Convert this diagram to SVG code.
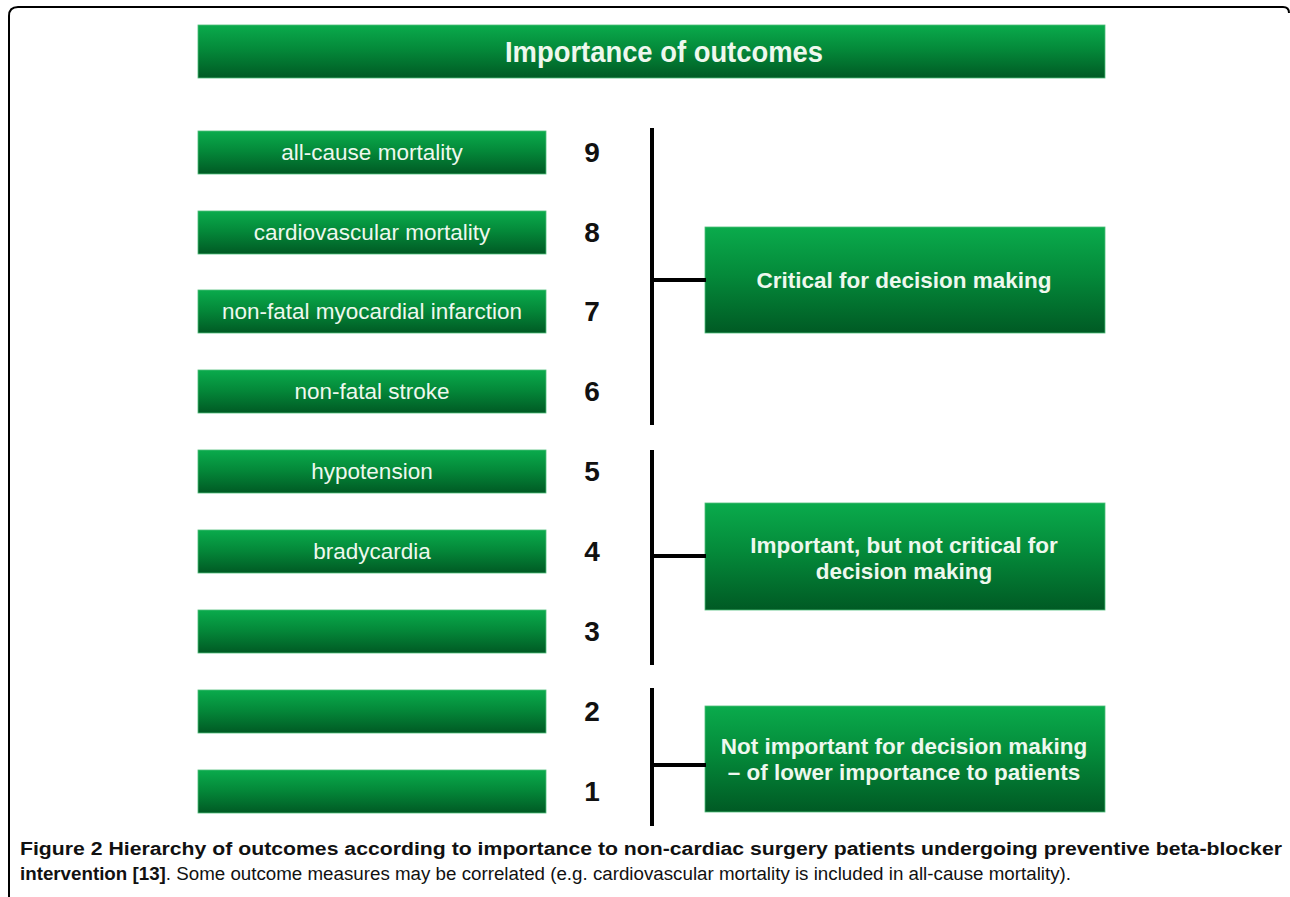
<svg xmlns="http://www.w3.org/2000/svg" width="1290" height="897" viewBox="0 0 1290 897">
<defs>
<linearGradient id="g" x1="0" y1="0" x2="0" y2="1">
<stop offset="0" stop-color="#0aab4c"/>
<stop offset="0.45" stop-color="#048a3a"/>
<stop offset="1" stop-color="#005a24"/>
</linearGradient>
<style>
.box{fill:url(#g);stroke:#4fbf7a;stroke-width:0.8}
.lbl{font-family:"Liberation Sans",Arial,sans-serif;font-size:22.5px;fill:#eef8ee;text-anchor:middle}
.big{font-family:"Liberation Sans",Arial,sans-serif;font-size:22.5px;font-weight:bold;fill:#eef8ee;text-anchor:middle}
.num{font-family:"Liberation Sans",Arial,sans-serif;font-size:28px;font-weight:bold;fill:#111;text-anchor:middle}
.ln{stroke:#000;stroke-width:4;fill:none}
.cap{font-family:"Liberation Sans Narrow","Liberation Sans",Arial,sans-serif;font-size:18px;fill:#111}
</style>
</defs>
<rect width="1290" height="897" fill="#fff"/>
<path d="M9,897 L9,16 Q9,7 18,7 L1283,7 Q1289,7 1289,13" fill="none" stroke="#000" stroke-width="2"/>
<g id="title">
<rect class="box" x="198" y="25" width="907" height="53"/>
<text x="664" y="62" font-family="Liberation Sans Narrow,Liberation Sans,Arial,sans-serif" font-size="29" font-weight="bold" fill="#eef8ee" text-anchor="middle" textLength="318" lengthAdjust="spacingAndGlyphs">Importance of outcomes</text>
</g>
<g id="o9"><rect class="box" x="198" y="131" width="348" height="43"/><text class="lbl" x="372" y="160">all-cause mortality</text><text class="num" x="592" y="162">9</text></g>
<g id="o8"><rect class="box" x="198" y="211" width="348" height="43"/><text class="lbl" x="372" y="240">cardiovascular mortality</text><text class="num" x="592" y="242">8</text></g>
<g id="o7"><rect class="box" x="198" y="290" width="348" height="43"/><text class="lbl" x="372" y="319">non-fatal myocardial infarction</text><text class="num" x="592" y="321">7</text></g>
<g id="o6"><rect class="box" x="198" y="370" width="348" height="43"/><text class="lbl" x="372" y="399">non-fatal stroke</text><text class="num" x="592" y="401">6</text></g>
<g id="o5"><rect class="box" x="198" y="450" width="348" height="43"/><text class="lbl" x="372" y="479">hypotension</text><text class="num" x="592" y="481">5</text></g>
<g id="o4"><rect class="box" x="198" y="530" width="348" height="43"/><text class="lbl" x="372" y="559">bradycardia</text><text class="num" x="592" y="561">4</text></g>
<g id="o3"><rect class="box" x="198" y="610" width="348" height="43"/><text class="num" x="592" y="641">3</text></g>
<g id="o2"><rect class="box" x="198" y="690" width="348" height="43"/><text class="num" x="592" y="721">2</text></g>
<g id="o1"><rect class="box" x="198" y="770" width="348" height="43"/><text class="num" x="592" y="801">1</text></g>
<g id="critical"><rect class="box" x="705" y="227" width="400" height="106"/><text class="big" x="904" y="288">Critical for decision making</text></g>
<g id="important"><rect class="box" x="705" y="503" width="400" height="107"/><text class="big" x="904" y="553">Important, but not critical for</text><text class="big" x="904" y="579">decision making</text></g>
<g id="notimportant"><rect class="box" x="705" y="706" width="400" height="106"/><text class="big" x="904" y="754">Not important for decision making</text><text class="big" x="904" y="780">– of lower importance to patients</text></g>
<g id="connectors">
<line class="ln" x1="652" y1="128" x2="652" y2="425"/>
<line class="ln" x1="652" y1="280" x2="706" y2="280"/>
<line class="ln" x1="652" y1="450" x2="652" y2="665"/>
<line class="ln" x1="652" y1="556" x2="706" y2="556"/>
<line class="ln" x1="652" y1="688" x2="652" y2="826"/>
<line class="ln" x1="652" y1="765" x2="706" y2="765"/>
</g>
<g id="caption">
<text class="cap" x="20" y="855" font-weight="bold" textLength="1262" lengthAdjust="spacingAndGlyphs">Figure 2 Hierarchy of outcomes according to importance to non-cardiac surgery patients undergoing preventive beta-blocker</text>
<text class="cap" x="20" y="880" textLength="1051" lengthAdjust="spacingAndGlyphs"><tspan font-weight="bold">intervention [13]</tspan>. Some outcome measures may be correlated (e.g. cardiovascular mortality is included in all-cause mortality).</text>
</g>
</svg>
